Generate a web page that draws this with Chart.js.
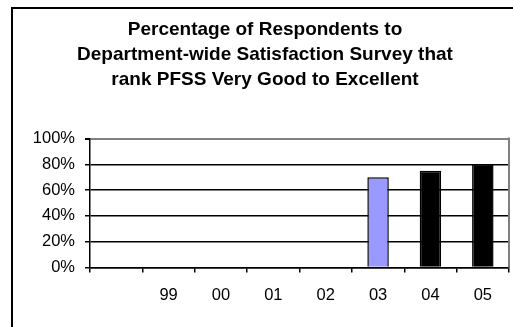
<!DOCTYPE html>
<html>
<head>
<meta charset="utf-8">
<script src="https://cdn.jsdelivr.net/npm/chart.js@4"></script>
<style>
  html, body { margin: 0; padding: 0; background: #fff; overflow: hidden; }
  #wrap { width: 530px; height: 327px; }
</style>
</head>
<body>
<div id="wrap"><canvas id="pfss-chart" width="530" height="327"></canvas></div>
<script>
// survey years (first slot left blank on purpose)
const years = ['', '99', '00', '01', '02', '03', '04', '05'];
// percent ranking PFSS very good to excellent
const pctVeryGood = [null, null, null, null, null, 70, 75, 80];
const yTicks = [0, 20, 40, 60, 80, 100];
const barColors = ['#000000', '#000000', '#000000', '#000000', '#000000', '#9999FF', '#000000', '#000000'];

const titleLines = [
    'Percentage of Respondents to',
    'Department-wide Satisfaction Survey that',
    'rank PFSS Very Good to Excellent'
];

const fontFamily = '"Liberation Sans", Arial, sans-serif';

// outer frame plus the grey plot border on the right
const frame = {
    id: 'frame',
    afterDraw(chart) {
        const ctx = chart.ctx;
        const area = chart.chartArea;
        ctx.save();
        ctx.strokeStyle = '#808080';
        ctx.lineWidth = 2;
        ctx.beginPath();
        ctx.moveTo(area.right, area.top - 1);
        ctx.lineTo(area.right, area.bottom);
        ctx.stroke();

        ctx.strokeStyle = '#000000';
        ctx.lineWidth = 2;
        ctx.beginPath();
        ctx.moveTo(12, chart.height);
        ctx.lineTo(12, 8);
        ctx.lineTo(518, 8);
        ctx.stroke();
        ctx.restore();
    }
};

const ctx = document.getElementById('pfss-chart').getContext('2d');
new Chart(ctx, {
    type: 'bar',
    data: {
        labels: years,
        datasets: [{
            data: pctVeryGood,
            backgroundColor: barColors,
            borderColor: '#000000',
            borderWidth: 1.5,
            barPercentage: 0.41,
            categoryPercentage: 1
        }]
    },
    options: {
        responsive: false,
        animation: false,
        layout: { padding: { left: 21, right: 21, top: 0, bottom: 0 } },
        plugins: {
            legend: { display: false },
            tooltip: { enabled: false },
            title: {
                display: true,
                text: titleLines,
                color: '#000000',
                font: { family: fontFamily, size: 19, weight: 'bold', lineHeight: 1.29 },
                padding: { top: 18, bottom: 47 }
            }
        },
        scales: {
            x: {
                afterFit(scale) { scale.height = 59.5; },
                grid: {
                    display: true,
                    drawOnChartArea: false,
                    drawTicks: true,
                    tickLength: 5,
                    color: '#000000',
                    lineWidth: 1.5
                },
                border: { display: true, color: '#000000', width: 1.5 },
                ticks: {
                    color: '#000000',
                    font: { family: fontFamily, size: 16.5 },
                    padding: 13.5,
                    maxRotation: 0,
                    autoSkip: false
                }
            },
            y: {
                min: 0,
                max: 100,
                afterFit(scale) { scale.width = 69; },
                afterBuildTicks(scale) {
                    scale.ticks = yTicks.map(v => ({ value: v }));
                },
                grid: {
                    drawTicks: true,
                    tickLength: 5,
                    color: c => (c.tick && c.tick.value === 100 ? '#808080' : '#000000'),
                    lineWidth: c => (c.tick && c.tick.value === 100 ? 2 : 1.5),
                    tickColor: '#000000'
                },
                border: { display: true, color: '#000000', width: 1.5 },
                ticks: {
                    color: '#000000',
                    font: { family: fontFamily, size: 16.5 },
                    padding: 10,
                    callback: v => v + '%'
                }
            }
        }
    },
    plugins: [frame]
});
</script>
</body>
</html>
